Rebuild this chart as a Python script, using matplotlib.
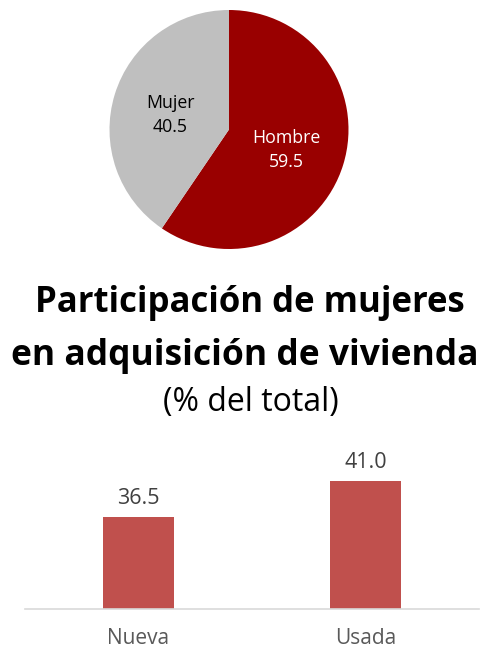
import matplotlib.pyplot as plt

plt.rcParams['font.family'] = ['Open Sans', 'DejaVu Sans']

pie_labels = ['Hombre', 'Mujer']
pie_values = [59.5, 40.5]
pie_colors = ['#990000', '#BFBFBF']

categories = ['Nueva', 'Usada']
bar_values = [36.5, 41.0]

W, H = 489, 651
fig = plt.figure(figsize=(W / 100, H / 100), dpi=100)

# pie
cx, cy, r = 229, 129.5, 119.5
ax1 = fig.add_axes([(cx - r) / W, 1 - (cy + r) / H, 2 * r / W, 2 * r / H])
wedges, _ = ax1.pie(pie_values, colors=pie_colors, startangle=90, counterclock=False,
                    radius=1)
ax1.set_xlim(-1, 1)
ax1.set_ylim(-1, 1)
txt_colors = ['white', 'black']
txt_pos = [(0.48, -0.17), (-0.49, 0.12)]
for lab, val, c, (x, y) in zip(pie_labels, pie_values, txt_colors, txt_pos):
    ax1.text(x, y, f'{lab}\n{val:.1f}', ha='center', va='center', color=c,
             fontsize=12.8, linespacing=1.45)

# titles
fig.text(250 / W, 1 - 303 / H, 'Participación de mujeres', ha='center', va='center',
         fontsize=25, fontweight='bold')
fig.text(245 / W, 1 - 356 / H, 'en adquisición de vivienda', ha='center', va='center',
         fontsize=25.5, fontweight='bold')
fig.text(251 / W, 1 - 403 / H, '(% del total)', ha='center', va='center', fontsize=23)

# bars
ax2 = fig.add_axes([25 / W, (H - 609) / H, 454 / W, 168 / H])
x = range(len(categories))
bars = ax2.bar(x, bar_values, width=0.31, bottom=0, color='#C0504D')
ax2.set_ylim(25, 46)
ax2.set_xlim(-0.5, 1.5)
for b, v in zip(bars, bar_values):
    ax2.text(b.get_x() + b.get_width() / 2, v + 1.0, f'{v:.1f}', ha='center', va='bottom',
             fontsize=15.5, color='#404040')
ax2.set_xticks(list(x))
ax2.set_xticklabels(categories, fontsize=15, color='#595959')
ax2.tick_params(axis='x', length=0, pad=14)
ax2.set_yticks([])
for s in ['top', 'right', 'left']:
    ax2.spines[s].set_visible(False)
ax2.spines['bottom'].set_color('#D9D9D9')
ax2.spines['bottom'].set_linewidth(1.2)

fig.savefig('out.png', dpi=100)
